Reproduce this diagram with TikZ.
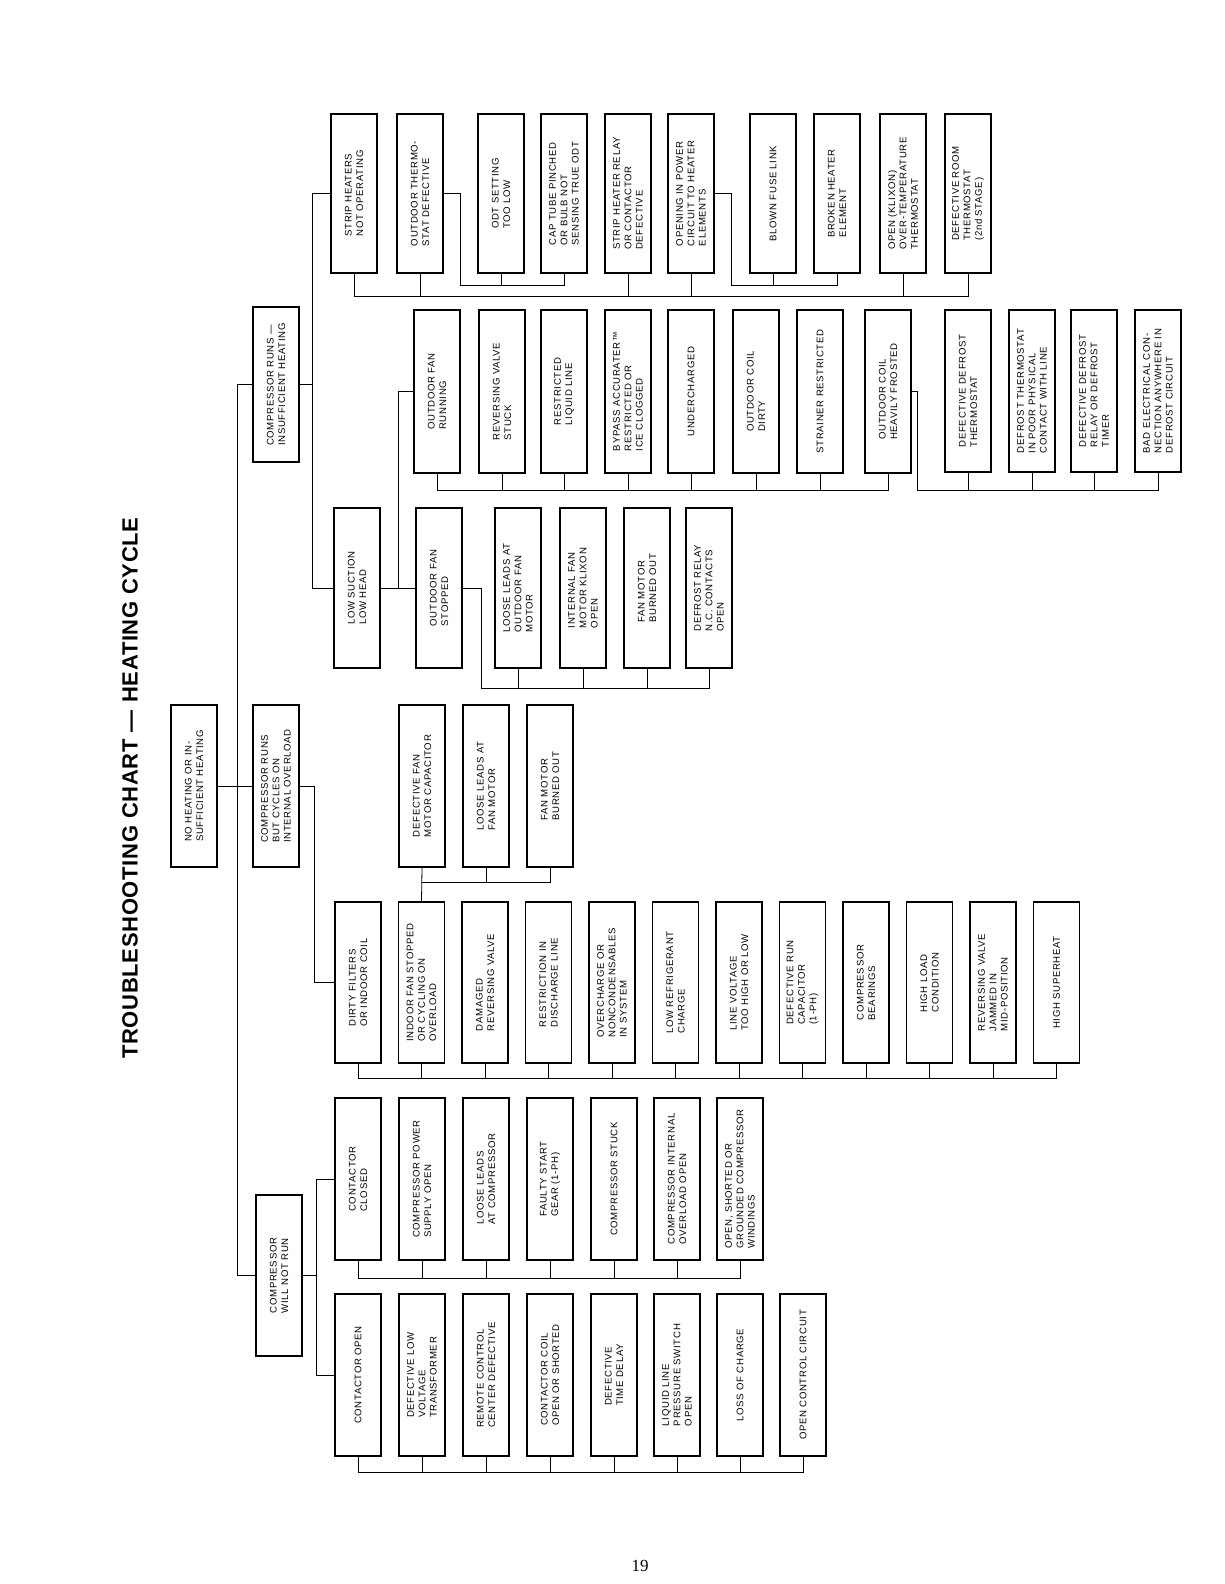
\documentclass[tikz,border=0pt]{standalone}
\usepackage{fontspec}
\setmainfont{Liberation Sans}
\newfontfamily\boxfont[LetterSpace=7]{Liberation Sans}
\newfontfamily\titlefont[LetterSpace=3]{Liberation Sans}
\newfontfamily\pgfont{Liberation Serif}
\begin{document}
\begin{tikzpicture}[x=1pt,y=-1pt,
  bx/.style={draw,line width=1.3pt,rotate=90,inner sep=0pt,align=left,minimum height=46pt,font=\boxfont\fontsize{9.6}{11.4}\selectfont},
  ln/.style={line width=0.8pt}]
\useasboundingbox[fill=white] (0,0) rectangle (1224,1584);
\newcommand\bx[5]{\node[bx,minimum width={#4-#3}] (#1) at ({#2+23},{(#3+#4)/2}) {#5};}
\node[rotate=90,font=\titlefont\fontsize{22}{26}\selectfont\bfseries] (title) at (130,788) {TROUBLESHOOTING CHART\,\,—\,\,HEATING CYCLE};
\node[font=\pgfont\fontsize{17}{20}\selectfont] (pg) at (640,1566) {19};
% level 0/1
\bx{root}{171}{705}{867}{NO HEATING OR IN-\\SUFFICIENT HEATING}
\bx{c1}{253}{307}{462}{COMPRESSOR RUNS —\\INSUFFICIENT HEATING}
\bx{c2}{253}{705}{867}{COMPRESSOR RUNS\\BUT CYCLES ON\\INTERNAL OVERLOAD}
\bx{c3}{256}{1195}{1356}{COMPRESSOR\\WILL NOT RUN}
% top row
\bx{sh}{331}{114}{273}{STRIP HEATERS\\NOT OPERATING}
\bx{ot}{397}{114}{273}{OUTDOOR THERMO-\\STAT DEFECTIVE}
\bx{odt}{478}{114}{273}{ODT SETTING\\TOO LOW}
\bx{cap}{541}{114}{273}{CAP TUBE PINCHED\\OR BULB NOT\\SENSING TRUE ODT}
\bx{shr}{605}{114}{273}{STRIP HEATER RELAY\\OR CONTACTOR\\DEFECTIVE}
\bx{op}{668}{114}{273}{OPENING IN POWER\\CIRCUIT TO HEATER\\ELEMENTS}
\bx{bf}{750}{114}{273}{BLOWN FUSE LINK}
\bx{bh}{814}{114}{273}{BROKEN HEATER\\ELEMENT}
\bx{kl}{880}{114}{273}{OPEN (KLIXON)\\OVER-TEMPERATURE\\THERMOSTAT}
\bx{rt}{945}{114}{273}{DEFECTIVE ROOM\\THERMOSTAT\\(2nd STAGE)}
% second row
\bx{ofr}{414}{310}{473}{OUTDOOR FAN\\RUNNING}
\bx{rv}{479}{310}{473}{REVERSING VALVE\\STUCK}
\bx{rl}{541}{310}{473}{RESTRICTED\\LIQUID LINE}
\bx{by}{605}{310}{473}{BYPASS ACCURATER™\\RESTRICTED OR\\ICE CLOGGED}
\bx{uc}{668}{310}{473}{UNDERCHARGED}
\bx{od}{733}{310}{473}{OUTDOOR COIL\\DIRTY}
\bx{sr}{797}{310}{473}{STRAINER RESTRICTED}
\bx{fr}{865}{310}{473}{OUTDOOR COIL\\HEAVILY FROSTED}
\bx{dd}{945}{310}{472}{DEFECTIVE DEFROST\\THERMOSTAT}
\bx{dt}{1009}{310}{472}{DEFROST THERMOSTAT\\IN POOR PHYSICAL\\CONTACT WITH LINE}
\bx{dr}{1071}{310}{472}{DEFECTIVE DEFROST\\RELAY OR DEFROST\\TIMER}
\bx{be}{1135}{310}{472}{BAD ELECTRICAL CON-\\NECTION ANYWHERE IN\\DEFROST CIRCUIT}
% third row
\bx{ls}{334}{508}{668}{LOW SUCTION\\LOW HEAD}
\bx{ofs}{416}{508}{668}{OUTDOOR FAN\\STOPPED}
\bx{ll}{495}{508}{668}{LOOSE LEADS AT\\OUTDOOR FAN\\MOTOR}
\bx{im}{560}{508}{668}{INTERNAL FAN\\MOTOR KLIXON\\OPEN}
\bx{fm}{624}{508}{668}{FAN MOTOR\\BURNED OUT}
\bx{dre}{686}{508}{668}{DEFROST RELAY\\N.C. CONTACTS\\OPEN}
% fan kids
\bx{dfc}{399}{705}{867}{DEFECTIVE FAN\\MOTOR CAPACITOR}
\bx{llf}{463}{705}{867}{LOOSE LEADS AT\\FAN MOTOR}
\bx{fmb}{527}{705}{867}{FAN MOTOR\\BURNED OUT}
% overload row
\bx{df}{335}{902}{1063}{DIRTY FILTERS\\OR INDOOR COIL}
\bx{ifs}{398.5}{902}{1063}{INDOOR FAN STOPPED\\OR CYCLING ON\\OVERLOAD}
\bx{drv}{462}{902}{1063}{DAMAGED\\REVERSING VALVE}
\bx{rdl}{525.5}{902}{1063}{RESTRICTION IN\\DISCHARGE LINE}
\bx{ovc}{589}{902}{1063}{OVERCHARGE OR\\NONCONDENSABLES\\IN SYSTEM}
\bx{lrc}{652.5}{902}{1063}{LOW REFRIGERANT\\CHARGE}
\bx{lv}{716}{902}{1063}{LINE VOLTAGE\\TOO HIGH OR LOW}
\bx{drc}{779.5}{902}{1063}{DEFECTIVE RUN\\CAPACITOR\\(1-PH)}
\bx{cb}{843}{902}{1063}{COMPRESSOR\\BEARINGS}
\bx{hl}{906.5}{902}{1063}{HIGH LOAD\\CONDITION}
\bx{rvj}{970}{902}{1063}{REVERSING VALVE\\JAMMED IN\\MID-POSITION}
\bx{hs}{1033.5}{902}{1063}{HIGH SUPERHEAT}
% contactor closed row
\bx{cc}{335}{1098}{1260}{CONTACTOR\\CLOSED}
\bx{cps}{399}{1098}{1260}{COMPRESSOR POWER\\SUPPLY OPEN}
\bx{llc}{463}{1098}{1260}{LOOSE LEADS\\AT COMPRESSOR}
\bx{fsg}{527}{1098}{1260}{FAULTY START\\GEAR (1-PH)}
\bx{cst}{591}{1098}{1260}{COMPRESSOR STUCK}
\bx{cio}{654}{1098}{1260}{COMPRESSOR INTERNAL\\OVERLOAD OPEN}
\bx{osg}{717}{1098}{1260}{OPEN, SHORTED OR\\GROUNDED COMPRESSOR\\WINDINGS}
% contactor open row
\bx{co}{335}{1294}{1456}{CONTACTOR OPEN}
\bx{dlv}{399}{1294}{1456}{DEFECTIVE LOW\\VOLTAGE\\TRANSFORMER}
\bx{rcc}{463}{1294}{1456}{REMOTE CONTROL\\CENTER DEFECTIVE}
\bx{ccl}{527}{1294}{1456}{CONTACTOR COIL\\OPEN OR SHORTED}
\bx{dtd}{591}{1294}{1456}{DEFECTIVE\\TIME DELAY}
\bx{llp}{654}{1294}{1456}{LIQUID LINE\\PRESSURE SWITCH\\OPEN}
\bx{loc}{717}{1294}{1456}{LOSS OF CHARGE}
\bx{occ}{780}{1294}{1456}{OPEN CONTROL CIRCUIT}
% bus coordinates
\coordinate (b1) at (0,296);
\coordinate (b1a) at (0,285);
\coordinate (b2) at (0,490);
\coordinate (b3) at (0,688);
\coordinate (b4) at (0,882);
\coordinate (b5) at (0,1078);
\coordinate (b6) at (0,1278);
\coordinate (b7) at (0,1472);
\coordinate (m) at (237,0);
\coordinate (m1) at (312,0);
\coordinate (m2) at (314,0);
\coordinate (m3) at (316,0);
\coordinate (k1) at (398,0);
\coordinate (k2) at (481,0);
\coordinate (t1) at (460,0);
\coordinate (t2) at (731,0);
\coordinate (f1) at (917,0);
% main tree
\draw[ln] (m |- c1.north) -- (m |- c3.north);
\draw[ln] (c1.north) -- (m |- c1.north);
\draw[ln] (root.south) -- (c2.north);
\draw[ln] (m |- c3.north) -- (c3.north);
% compressor runs insufficient
\draw[ln] (c1.south) -- (m1 |- c1.south);
\draw[ln] (m1 |- sh.north) -- (m1 |- ls.north);
\draw[ln] (m1 |- sh.north) -- (sh.north);
\draw[ln] (m1 |- ls.north) -- (ls.north);
% strip heaters
\draw[ln] (sh.west) -- (sh.west |- b1) -- (rt.west |- b1) -- (rt.west);
\foreach \n in {ot,shr,op,kl} \draw[ln] (\n.west) -- (\n.west |- b1);
\draw[ln] (ot.south) -- (t1 |- ot.south) -- (t1 |- b1a) -- (cap.west |- b1a) -- (cap.west);
\draw[ln] (odt.west) -- (odt.west |- b1a);
\draw[ln] (op.south) -- (t2 |- op.south) -- (t2 |- b1a) -- (bh.west |- b1a) -- (bh.west);
\draw[ln] (bf.west) -- (bf.west |- b1a);
% low suction
\draw[ln] (ls.south) -- (k1 |- ls.south) |- (ofr.north);
\draw[ln] (k1 |- ls.south) -- (ofs.north);
\draw[ln] (ofr.west) -- (ofr.west |- b2) -- (fr.west |- b2) -- (fr.west);
\foreach \n in {rv,rl,by,uc,od,sr} \draw[ln] (\n.west) -- (\n.west |- b2);
\draw[ln] (fr.south) -- (f1 |- fr.south) -- (f1 |- b2) -- (be.west |- b2) -- (be.west);
\foreach \n in {dd,dt,dr} \draw[ln] (\n.west) -- (\n.west |- b2);
\draw[ln] (ofs.south) -- (k2 |- ofs.south) -- (k2 |- b3) -- (dre.west |- b3) -- (dre.west);
\foreach \n in {ll,im,fm} \draw[ln] (\n.west) -- (\n.west |- b3);
% cycles on overload
\draw[ln] (c2.south) -- (m2 |- c2.south) |- (df.north);
\draw[ln] (df.west) -- (df.west |- b5) -- (hs.west |- b5) -- (hs.west);
\foreach \n in {ifs,drv,rdl,ovc,lrc,lv,drc,cb,hl,rvj} \draw[ln] (\n.west) -- (\n.west |- b5);
\draw[ln] (ifs.east) -- (dfc.west);
\draw[ln] (dfc.west |- b4) -- (fmb.west |- b4) -- (fmb.west);
\draw[ln] (llf.west) -- (llf.west |- b4);
% compressor will not run
\draw[ln] (c3.south) -- (m3 |- c3.south);
\draw[ln] (m3 |- cc.north) -- (m3 |- co.north);
\draw[ln] (m3 |- cc.north) -- (cc.north);
\draw[ln] (m3 |- co.north) -- (co.north);
\draw[ln] (cc.west) -- (cc.west |- b6) -- (osg.west |- b6) -- (osg.west);
\foreach \n in {cps,llc,fsg,cst,cio} \draw[ln] (\n.west) -- (\n.west |- b6);
\draw[ln] (co.west) -- (co.west |- b7) -- (occ.west |- b7) -- (occ.west);
\foreach \n in {dlv,rcc,ccl,dtd,llp,loc} \draw[ln] (\n.west) -- (\n.west |- b7);
\end{tikzpicture}
\end{document}
